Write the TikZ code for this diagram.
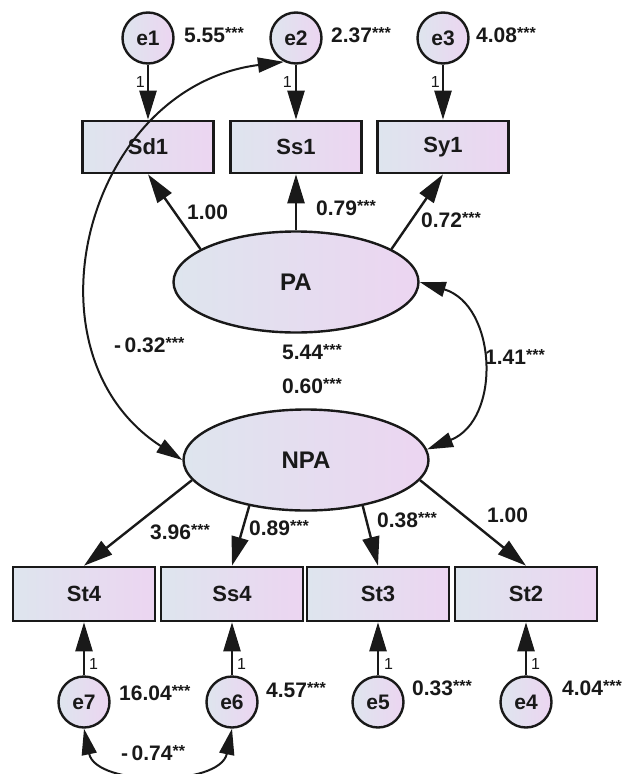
\documentclass[tikz,border=0pt]{standalone}
\usepackage{fontspec}
\setmainfont{Liberation Sans}
\usetikzlibrary{positioning, arrows.meta, shapes.geometric}

\definecolor{fillL}{RGB}{222,229,238}
\definecolor{fillR}{RGB}{236,213,241}
\definecolor{ink}{RGB}{25,25,25}
\newcommand{\sig}[1]{\raisebox{0.42ex}{\fontsize{16}{16}\selectfont#1}}

\begin{document}
\begin{tikzpicture}[
    x=1pt, y=-1pt,
    observed/.style={rectangle, draw=ink, line width=2.6pt, left color=fillL, right color=fillR, minimum width=131pt, minimum height=52pt, text=ink, font=\fontsize{22}{26}\selectfont\bfseries},
    lowbox/.style={observed, minimum width=142pt, minimum height=54pt},
    latent/.style={ellipse, draw=ink, line width=2.4pt, left color=fillL, right color=fillR, minimum width=245pt, minimum height=101pt, text=ink, font=\fontsize{24}{28}\selectfont\bfseries},
    err/.style={circle, draw=ink, line width=2.4pt, left color=fillL, right color=fillR, minimum size=51pt, inner sep=0pt, text=ink, font=\fontsize{21}{24}\selectfont\bfseries},
    est/.style={anchor=west, inner sep=0pt, text=ink, font=\fontsize{21}{24}\selectfont\bfseries},
    one/.style={inner sep=0pt, text=ink, font=\fontsize{16}{18}\selectfont},
    path/.style={-{Triangle[length=29pt,width=17pt]}, line width=2.4pt, draw=ink},
    cov/.style={{Triangle[length=26pt,width=15pt]}-{Triangle[length=26pt,width=15pt]}, line width=2pt, draw=ink}
]
\useasboundingbox (0,0) rectangle (628,774);

% Latent variables
\node[latent] (PA) at (296,282) {PA};
\node[latent] (NPA) at (306,460) {NPA};

% Indicators
\node[observed] (Sd1) at (148,147) {Sd1};
\node[observed] (Ss1) at (296,147) {Ss1};
\node[observed] (Sy1) at (443,147) {Sy1};
\node[lowbox] (St4) at (84,594) {St4};
\node[lowbox] (Ss4) at (232,594) {Ss4};
\node[lowbox] (St3) at (378,594) {St3};
\node[lowbox] (St2) at (526,594) {St2};

% Error terms
\node[err, above=55pt of Sd1] (e1) {e1};
\node[err, above=55pt of Ss1] (e2) {e2};
\node[err, above=55pt of Sy1] (e3) {e3};
\node[err, below=53pt of St4] (e7) {e7};
\node[err, below=53pt of Ss4] (e6) {e6};
\node[err, below=53pt of St3] (e5) {e5};
\node[err, below=53pt of St2] (e4) {e4};

% Error paths
\draw[path] (e1) -- (Sd1);
\draw[path] (e2) -- (Ss1);
\draw[path] (e3) -- (Sy1);
\draw[path] (e7) -- (St4);
\draw[path] (e6) -- (Ss4);
\draw[path] (e5) -- (St3);
\draw[path] (e4) -- (St2);

% Loadings
\draw[path] (PA.161) -- (Sd1.south);
\draw[path] (PA.north) -- (Ss1.south);
\draw[path] (PA.19) -- (Sy1.south);
\draw[path] (NPA.190) -- (St4.north);
\draw[path] (NPA.219) -- (Ss4.north);
\draw[path] (NPA.321) -- (St3.north);
\draw[path] (NPA.350) -- (St2.north);

% Covariances
\draw[cov] (e2.243) .. controls +(-198,25) and +(-165,-107) .. (NPA.west);
\draw[cov] (PA.east) .. controls +(77,23) and +(75,-30) .. (NPA.5);
\draw[cov] (e7.south) .. controls +(12,58) and +(-12,58) .. (e6.south);

% Fixed paths
\node[one, anchor=east] (f1) at (145,82) {1};
\node[one, anchor=east] (f2) at (292,82) {1};
\node[one, anchor=east] (f3) at (440,82) {1};
\node[one, anchor=west] (f7) at (89,664) {1};
\node[one, anchor=west] (f6) at (237,664) {1};
\node[one, anchor=west] (f5) at (384,664) {1};
\node[one, anchor=west] (f4) at (531,664) {1};

% Variances
\node[est] (v1) at (184,35) {5.55\sig{***}};
\node[est] (v2) at (331,35) {2.37\sig{***}};
\node[est] (v3) at (476,35) {4.08\sig{***}};
\node[est] (vPA) at (282,352) {5.44\sig{***}};
\node[est] (vNPA) at (282,386) {0.60\sig{***}};
\node[est] (v7) at (119,693) {16.04\sig{***}};
\node[est] (v6) at (266,690) {4.57\sig{***}};
\node[est] (v5) at (412,688) {0.33\sig{***}};
\node[est] (v4) at (562,688) {4.04\sig{***}};

% Estimates
\node[est] (wSd1) at (187,212) {1.00};
\node[est] (wSs1) at (316,208) {0.79\sig{***}};
\node[est] (wSy1) at (421,220) {0.72\sig{***}};
\node[est] (wSt4) at (150,532) {3.96\sig{***}};
\node[est] (wSs4) at (249,528) {0.89\sig{***}};
\node[est] (wSt3) at (377,520) {0.38\sig{***}};
\node[est] (wSt2) at (487,515) {1.00};
\node[est] (c1) at (114,345) {-\,0.32\sig{***}};
\node[est] (c2) at (485,357) {1.41\sig{***}};
\node[est] (c3) at (121,753) {-\,0.74\sig{**}};

\end{tikzpicture}
\end{document}
